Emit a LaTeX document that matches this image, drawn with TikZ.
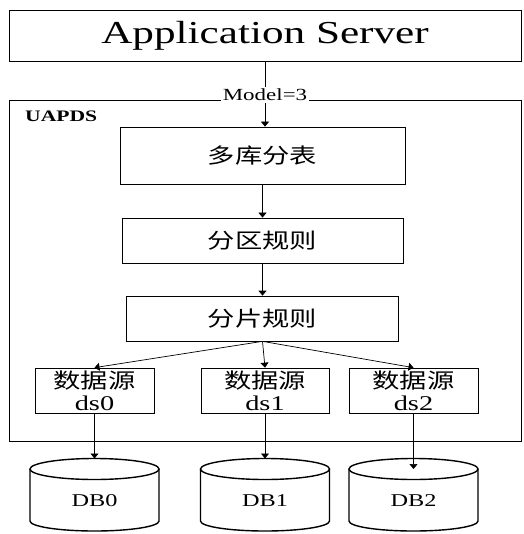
\documentclass[tikz,border=0pt]{standalone}
\usepackage{fontspec}
\setmainfont{Liberation Serif}[FakeStretch=1.35]
\newfontfamily\cjk{Noto Sans CJK SC}[FakeStretch=1.3]
\usetikzlibrary{arrows.meta}   %Triangle tips.

\begin{document}
\begin{tikzpicture}[x=1pt,y=-1pt,
  box/.style={draw,line width=0.7pt,inner sep=0pt},
  arr/.style={line width=0.7pt,-{Triangle[width=8pt,length=5pt]}},
  dbline/.style={line width=1.4pt}]
\useasboundingbox (0,0) rectangle (523,534);

%Define fonts and sizes
\def\zh{\cjk\fontsize{21}{25}\selectfont}   %Chinese box labels.
\def\rx{64.5}        %Half width of a DB cylinder.
\def\ry{10.5}        %Half height of its lid.

% APPLICATION SERVER
\node[box,minimum width=512pt,minimum height=51pt,font=\fontsize{32}{36}\selectfont] (app) at (265,35.5) {Application Server};

% UAPDS frame
\node[box,minimum width=512pt,minimum height=341pt] (uapds) at (265,270.5) {};
\node[anchor=base west,inner sep=0pt,font=\bfseries\fontsize{16}{18}\selectfont] (uname) at (25,122) {UAPDS};
\node[anchor=base,fill=white,inner sep=2pt,font=\fontsize{17}{19}\selectfont] (mdl) at (265,101) {Model=3};

% Rule boxes
\node[box,minimum width=285pt,minimum height=57pt,font=\zh] (mk) at (262.5,155.5) {多库分表};
\node[box,minimum width=281pt,minimum height=45pt,font=\zh] (fq) at (262.5,240.5) {分区规则};
\node[box,minimum width=272pt,minimum height=45pt,font=\zh] (fp) at (262.5,318.5) {分片规则};

% Data sources
\foreach \i/\cx/\w in {0/94.5/119,1/265/128,2/413.5/129}
  \node[box,minimum width=\w pt,minimum height=45pt,align=center,font=\fontsize{21}{24}\selectfont] (ds\i) at (\cx,390.5) {{\zh 数据源}\\[-2pt]ds\i};

% DB cylinders
\foreach \i/\cx in {0/94.5,1/265,2/413.5}{
  \draw[dbline] (\cx-\rx,469) -- (\cx-\rx,521) arc[start angle=180,end angle=0,x radius=\rx,y radius=10] -- (\cx+\rx,469);
  \draw[dbline] (\cx,469) ellipse[x radius=\rx,y radius=\ry];
  \coordinate (top\i) at (\cx,458.5);
  \coordinate (lid\i) at (\cx,469);
  \node[font=\fontsize{18}{20}\selectfont] (db\i) at (\cx,501) {DB\i};
}

% Connectors
\draw[line width=0.7pt] (app) -- (mdl);
\draw[arr] (mdl) -- (mdl |- mk.north);
\draw[arr] (mk) -- (fq);
\draw[arr] (fq) -- (fp);
\foreach \i in {0,1,2}
  \draw[arr] (fp.south) -- (ds\i.north);
\draw[arr] (ds0) -- (top0);
\draw[arr] (ds1) -- (top1);
\draw[arr] (ds2) -- (lid2);

\end{tikzpicture}
\end{document}
